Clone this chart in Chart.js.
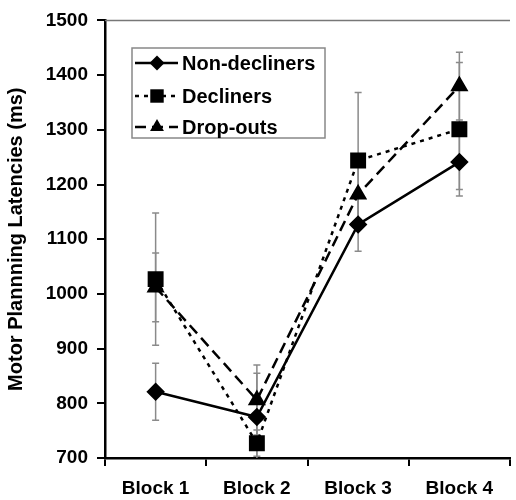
<!DOCTYPE html>
<html>
<head>
<meta charset="utf-8">
<script src="https://cdn.jsdelivr.net/npm/chart.js@4"></script>
<style>
  body { margin: 0; background: #fff; overflow: hidden; }
  #wrap { width: 522px; height: 500px; }
</style>
</head>
<body>
<div id="wrap"><canvas id="myChart" width="522" height="500"></canvas></div>
<script>
const blocks = ['Block 1', 'Block 2', 'Block 3', 'Block 4'];
const nonDecliners = [821, 775, 1127, 1241];
const nonDeclinersErr = [52, 80, 49, 50];
const decliners = [1027, 727, 1244, 1301];
const declinersErr = [121, 24, 124, 122];
const dropOuts = [1012, 806, 1182, 1380];
const dropOutsErr = [63, 64, 60, 62];
const yTicks = [700, 800, 900, 1000, 1100, 1200, 1300, 1400, 1500];

const errors = [nonDeclinersErr, declinersErr, dropOutsErr];
const FONT = 'Liberation Sans, Arial, sans-serif';

function drawMarker(ctx, style, x, y, r) {
    ctx.beginPath();
    if (style == 'rectRot') {
        ctx.moveTo(x, y - r); ctx.lineTo(x + r, y); ctx.lineTo(x, y + r); ctx.lineTo(x - r, y);
    } else if (style == 'rect') {
        const s = r * Math.SQRT1_2;
        ctx.rect(x - s, y - s, 2 * s, 2 * s);
    } else {
        ctx.moveTo(x, y - r);
        ctx.lineTo(x + r * Math.sin(2 * Math.PI / 3), y - r * Math.cos(2 * Math.PI / 3));
        ctx.lineTo(x + r * Math.sin(4 * Math.PI / 3), y - r * Math.cos(4 * Math.PI / 3));
    }
    ctx.closePath();
    ctx.fill();
}

// error bars + top frame line
const errorBars = {
    id: 'errorBars',
    beforeDatasetsDraw(chart) {
        const ctx = chart.ctx;
        const y = chart.scales.y;
        const area = chart.chartArea;
        ctx.save();
        ctx.beginPath();
        ctx.rect(area.left, area.top - 2, area.right - area.left, area.bottom - area.top + 2);
        ctx.clip();
        ctx.strokeStyle = '#8a8a8a';
        ctx.lineWidth = 1.5;
        chart.data.datasets.forEach((ds, i) => {
            const meta = chart.getDatasetMeta(i);
            meta.data.forEach((pt, j) => {
                const v = ds.data[j];
                const e = errors[i][j];
                const top = y.getPixelForValue(v + e);
                const bot = y.getPixelForValue(v - e);
                ctx.beginPath();
                ctx.moveTo(pt.x, top); ctx.lineTo(pt.x, bot);
                ctx.moveTo(pt.x - 3.5, top); ctx.lineTo(pt.x + 3.5, top);
                ctx.moveTo(pt.x - 3.5, bot); ctx.lineTo(pt.x + 3.5, bot);
                ctx.stroke();
            });
        });
        ctx.restore();
        // top frame
        ctx.save();
        ctx.strokeStyle = '#777';
        ctx.lineWidth = 1.5;
        ctx.beginPath();
        ctx.moveTo(area.left, area.top);
        ctx.lineTo(area.right, area.top);
        ctx.stroke();
        ctx.restore();
    }
};

// legend box drawn inside the plot
const boxLegend = {
    id: 'boxLegend',
    afterDatasetsDraw(chart) {
        const ctx = chart.ctx;
        const x0 = 132, y0 = 48, w = 193, h = 90;
        const rows = [63, 96, 127];
        ctx.save();
        ctx.fillStyle = '#fff';
        ctx.fillRect(x0, y0, w, h);
        ctx.strokeStyle = '#888';
        ctx.lineWidth = 1.5;
        ctx.strokeRect(x0, y0, w, h);
        chart.data.datasets.forEach((ds, i) => {
            const yy = rows[i];
            ctx.strokeStyle = '#000';
            ctx.lineWidth = 2.5;
            ctx.setLineDash(ds.borderDash || []);
            ctx.beginPath();
            ctx.moveTo(135, yy); ctx.lineTo(178, yy);
            ctx.stroke();
            ctx.setLineDash([]);
            ctx.fillStyle = '#000';
            drawMarker(ctx, ds.pointStyle, 157, yy, ds.pointRadius);
            ctx.font = 'bold 20px ' + FONT;
            ctx.textBaseline = 'middle';
            ctx.textAlign = 'left';
            ctx.fillText(ds.label, 182, yy + 1);
        });
        ctx.restore();
    }
};

const chartData = {
    labels: blocks,
    datasets: [
        {
            label: 'Non-decliners',
            data: nonDecliners,
            borderColor: '#000',
            backgroundColor: '#000',
            borderWidth: 2.5,
            pointStyle: 'rectRot',
            pointRadius: 7.5,
            tension: 0
        },
        {
            label: 'Decliners',
            data: decliners,
            borderColor: '#000',
            backgroundColor: '#000',
            borderWidth: 2.5,
            borderDash: [4, 5],
            pointStyle: 'rect',
            pointRadius: 9.5,
            tension: 0
        },
        {
            label: 'Drop-outs',
            data: dropOuts,
            borderColor: '#000',
            backgroundColor: '#000',
            borderWidth: 2.5,
            borderDash: [11, 6],
            pointStyle: 'triangle',
            pointRadius: 8,
            tension: 0
        }
    ]
};

const config = {
    type: 'line',
    data: chartData,
    options: {
        responsive: false,
        animation: false,
        layout: { padding: { top: 20, right: 0, bottom: 0, left: 0 } },
        plugins: {
            legend: { display: false },
            tooltip: { enabled: false }
        },
        scales: {
            x: {
                offset: true,
                grid: { display: true, drawOnChartArea: false, drawTicks: true, tickLength: 8, color: '#000', lineWidth: 2, offset: true },
                border: { color: '#000', width: 2.5 },
                ticks: { color: '#000', font: { family: FONT, size: 19, weight: 'bold' }, padding: 11, maxRotation: 0 },
                afterFit: (scale) => { scale.height = 42; }
            },
            y: {
                min: 700,
                max: 1500,
                afterBuildTicks: (scale) => { scale.ticks = yTicks.map(v => ({ value: v })); },
                grid: { display: true, drawOnChartArea: false, drawTicks: true, tickLength: 8, color: '#000', lineWidth: 2 },
                border: { color: '#000', width: 2.5 },
                ticks: {
                    color: '#000',
                    font: { family: FONT, size: 19, weight: 'bold' },
                    padding: 9,
                    callback: (value) => String(value)
                },
                title: {
                    display: true,
                    text: 'Motor Plannning Latencies (ms)',
                    color: '#000',
                    font: { family: FONT, size: 20, weight: 'bold' },
                    padding: { top: 4, bottom: 0 }
                },
                afterFit: (scale) => { scale.width = 105; }
            }
        }
    },
    plugins: [errorBars, boxLegend]
};

const chart1 = new Chart(document.getElementById('myChart'), config);
</script>
</body>
</html>
